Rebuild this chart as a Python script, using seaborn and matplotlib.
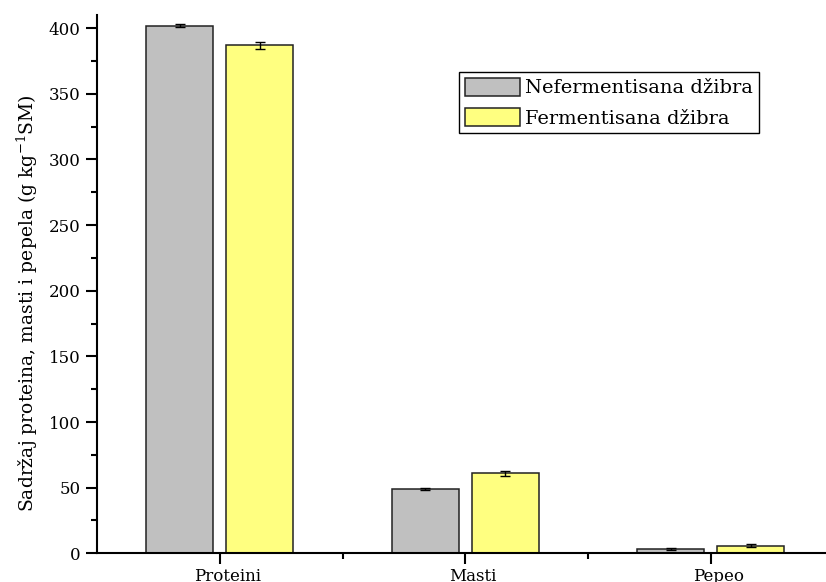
import numpy as np
import pandas as pd
import seaborn as sns
import matplotlib.pyplot as plt
import matplotlib.transforms as mtransforms
from matplotlib.ticker import MultipleLocator, FixedLocator

#%% Podaci
kategorije = ['Proteini', 'Masti', 'Pepeo']
uzorci = ['Nefermentisana džibra', 'Fermentisana džibra']
nefermentisana = [402.0, 49.0, 3.3]
nefermentisana_sd = [0.8, 0.8, 0.6]
fermentisana = [386.8, 61.0, 5.9]
fermentisana_sd = [2.9, 1.8, 1.2]

boje = ['#C0C0C0', '#FFFF80']

df = pd.DataFrame({
    'Kategorija': kategorije * 2,
    'Uzorak': [uzorci[0]] * 3 + [uzorci[1]] * 3,
    'Vrednost': nefermentisana + fermentisana,
})
greske = [nefermentisana_sd, fermentisana_sd]

#%% Grafik
sns.set_style('ticks')
plt.rcParams['font.family'] = ['DejaVu Serif']
plt.rcParams['mathtext.fontset'] = 'dejavuserif'
plt.rcParams['text.color'] = 'black'
plt.rcParams['axes.labelcolor'] = 'black'
plt.rcParams['xtick.color'] = 'black'
plt.rcParams['ytick.color'] = 'black'
plt.rcParams['axes.edgecolor'] = 'black'

fig = plt.figure(figsize=(8.26, 5.82), dpi=100)
ax = fig.add_axes([97 / 826, 0.0493, 736.5 / 826, 0.9249])

sns.barplot(data=df, x='Kategorija', y='Vrednost', hue='Uzorak',
            order=kategorije, hue_order=uzorci, palette=boje,
            width=0.652, gap=0.16, edgecolor='#222222', linewidth=1.1,
            errorbar=None, saturation=1, ax=ax)

for cont, err in zip(ax.containers, greske):
    xs = [p.get_x() + p.get_width() / 2 for p in cont.patches]
    ys = [p.get_height() for p in cont.patches]
    ax.errorbar(xs, ys, yerr=err, fmt='none', ecolor='black',
                elinewidth=1, capsize=3.6, capthick=1, zorder=5)

ax.set_ylim(0, 410)
ax.set_xlim(-0.5, 2.5)
ax.yaxis.set_major_locator(MultipleLocator(50))
ax.yaxis.set_minor_locator(MultipleLocator(25))
ax.xaxis.set_minor_locator(FixedLocator([0.5, 1.5]))

sns.despine(ax=ax)
for s in ['left', 'bottom']:
    ax.spines[s].set_linewidth(1.5)
ax.tick_params(axis='both', which='major', length=7.7, width=1.5, labelsize=12, direction='out')
ax.tick_params(axis='both', which='minor', length=4.5, width=1.5, direction='out')
ax.tick_params(axis='x', pad=3)
ax.tick_params(axis='y', pad=4)

# Origin pomera natpise kategorija malo udesno
pomak = mtransforms.ScaledTranslation(0.08, 0, fig.dpi_scale_trans)
for lbl in ax.get_xticklabels():
    lbl.set_transform(lbl.get_transform() + pomak)

ax.set_xlabel('')
ax.set_ylabel('Sadržaj proteina, masti i pepela (g kg$^{\\mathdefault{-1}}$SM)', fontsize=13.5)
ax.yaxis.set_label_coords(-0.078, 0.465)

leg = ax.legend(loc='upper left', bbox_to_anchor=(0.492, 0.8947), fontsize=14,
                frameon=True, fancybox=False, edgecolor='black', framealpha=1,
                handlelength=2.8, handleheight=1.05, handletextpad=0.3,
                borderpad=0.3, labelspacing=0.55, borderaxespad=0)
leg.get_frame().set_linewidth(1)

fig.savefig('out.png', dpi=100)
